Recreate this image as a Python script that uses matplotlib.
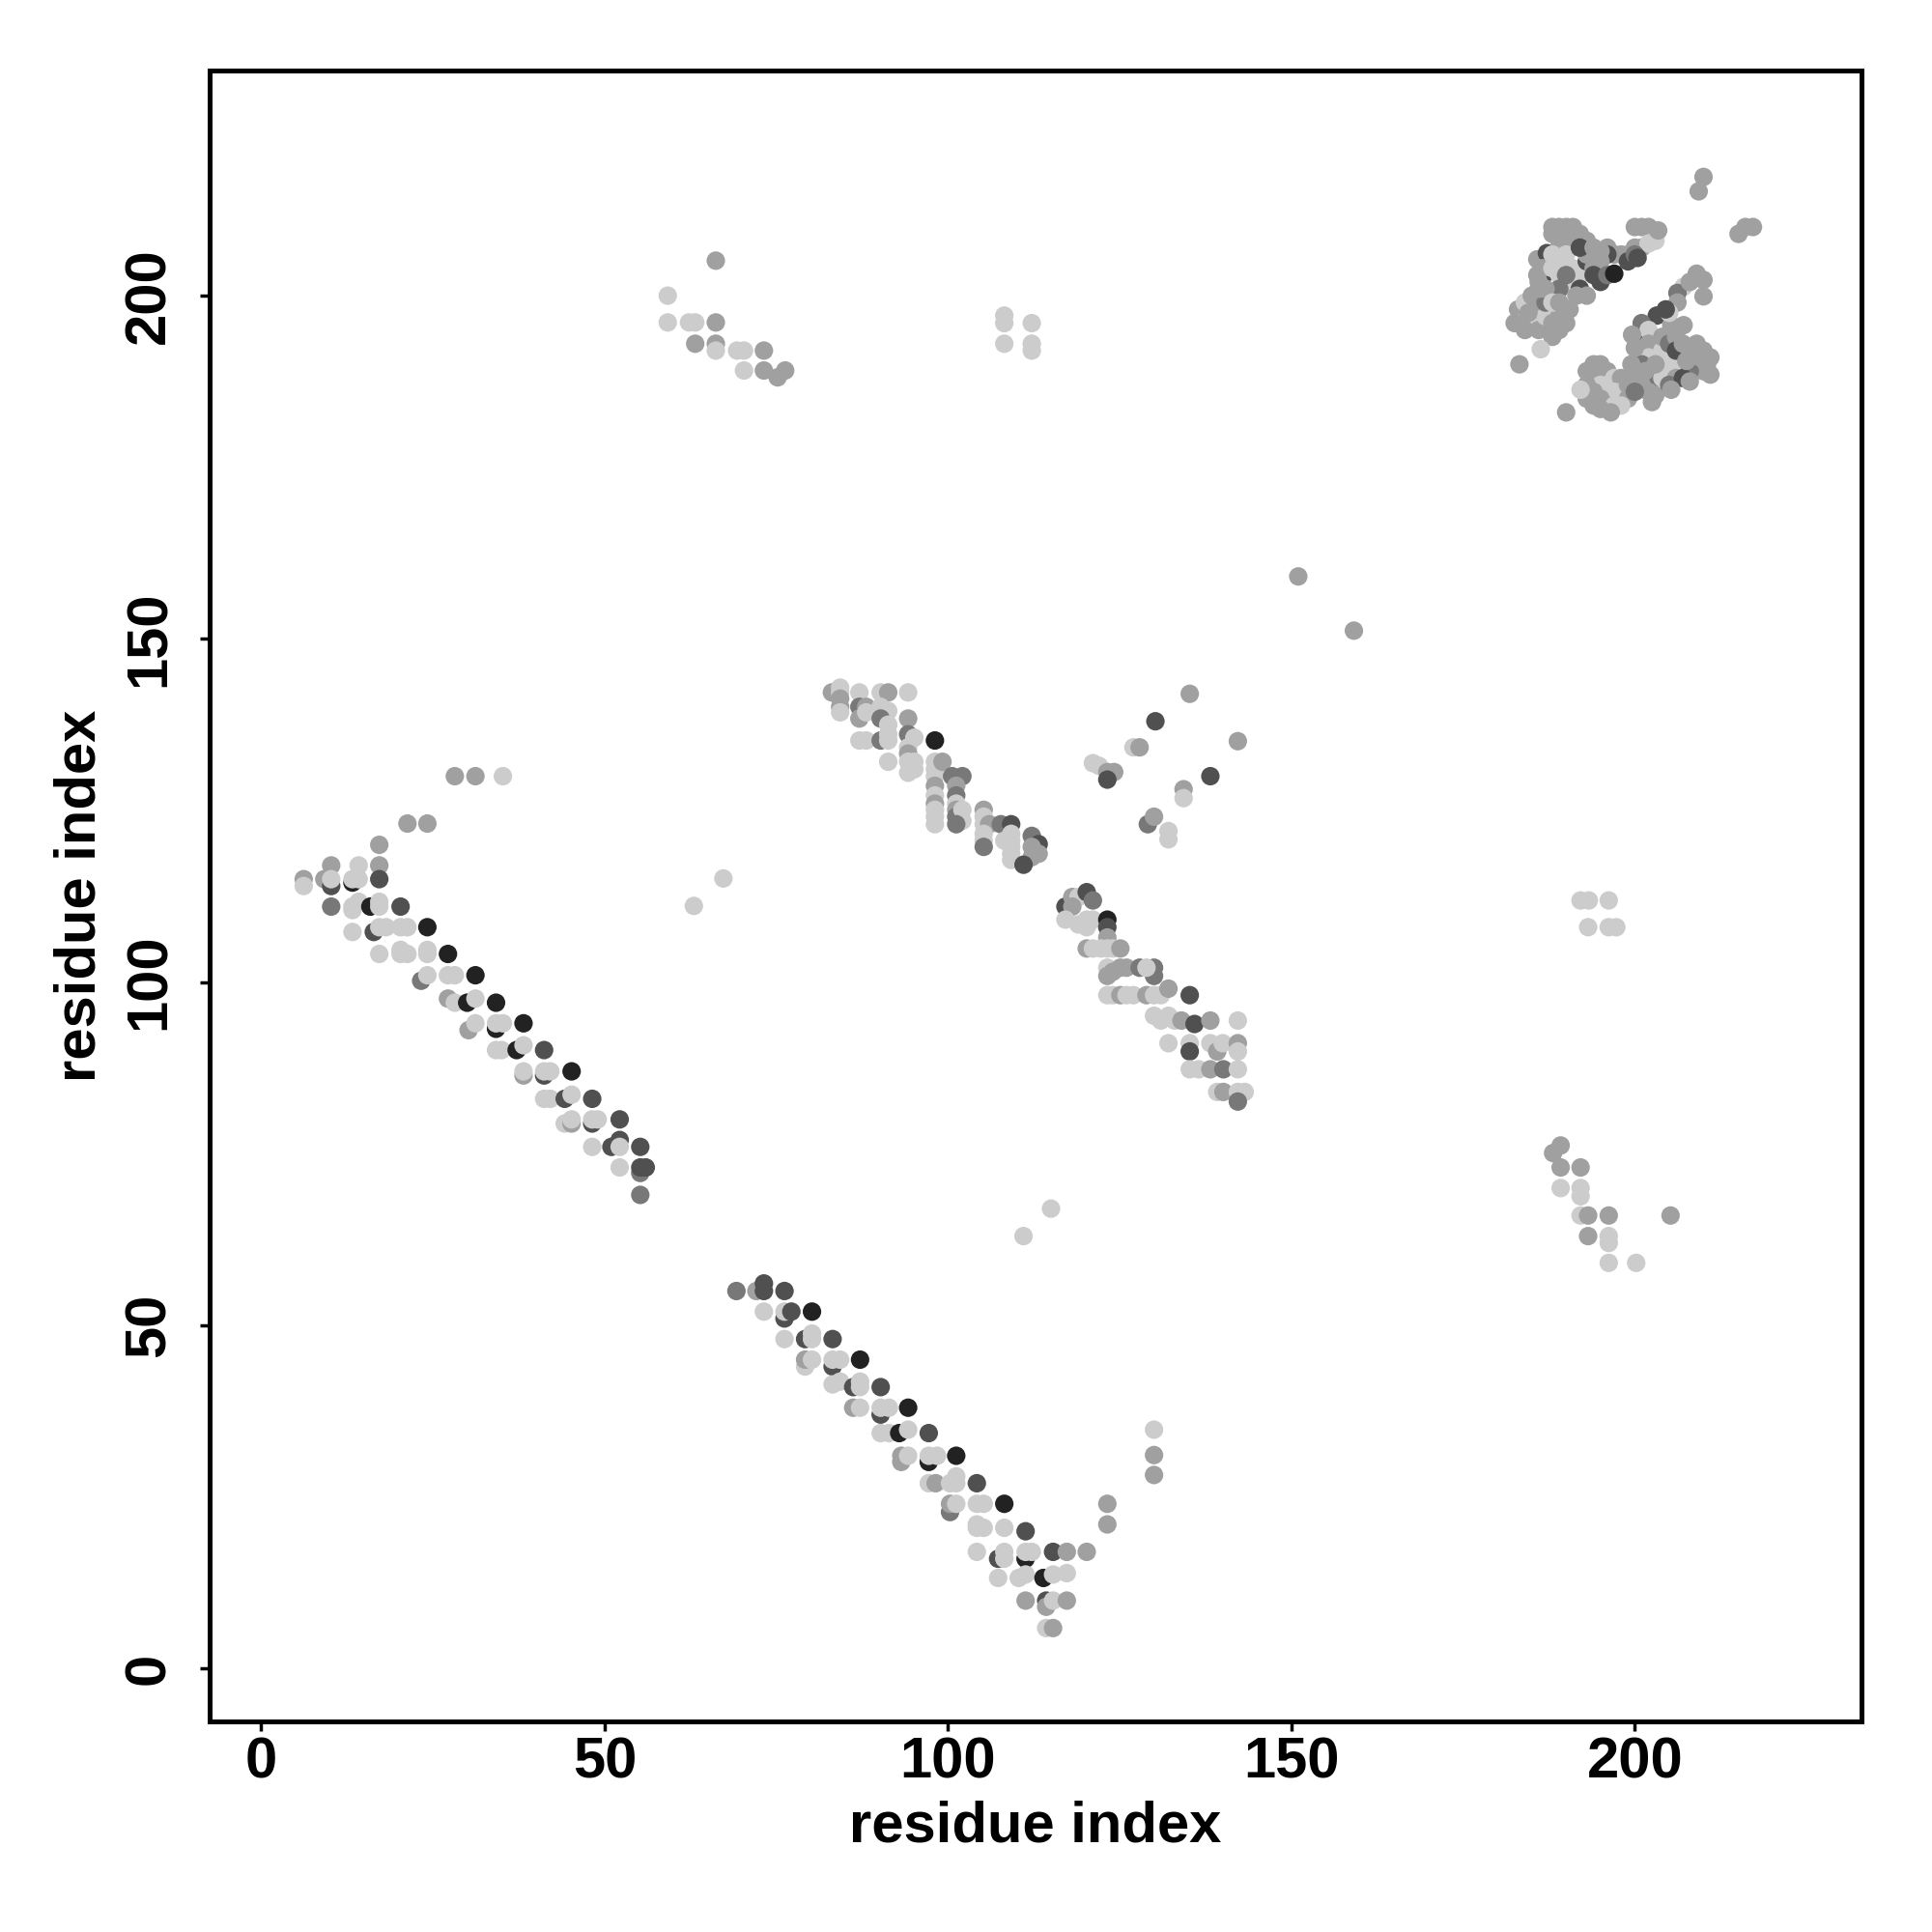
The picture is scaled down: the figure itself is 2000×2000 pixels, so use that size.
import numpy as np
import matplotlib.pyplot as plt
from matplotlib.colors import ListedColormap

# grey levels, 0 = light ... 4 = near black
greys = ['#cccccc', '#a0a0a0', '#787878', '#505050', '#222222']

# strand pair 1 (lower-left diagonal)
a_x = [28.2, 31.2, 35.2, 21.3, 24.2, 17.2, 10.2, 14.2, 17.2,
       6.2, 6.2, 9.2, 10.2, 10.2, 13.3, 13.3, 14.2, 17.2,
       10.2, 13.3, 13.3, 14.2, 15.9, 17.2, 17.2, 20.3,
       13.3, 16.4, 17.2, 18.2, 20.3, 21.3, 24.2,
       17.2, 20.3, 20.3, 21.3, 24.2, 24.2, 27.2,
       23.3, 24.2, 27.2, 28.2, 31.2,
       27.2, 28.2, 30.0, 31.2, 34.2,
       30.2, 31.2, 34.2, 34.2, 35.2, 38.2,
       34.2, 35.0, 37.2, 38.2, 41.2,
       38.2, 38.2, 41.2, 41.2, 42.1, 45.2,
       41.2, 42.1, 44.2, 45.2, 48.2,
       44.2, 45.2, 45.2, 48.2, 48.2, 49.0, 52.2,
       48.2, 51.0, 52.2, 52.2, 55.2,
       52.2, 55.2, 55.2, 56.0, 55.2]
a_y = [130, 130, 130, 123.1, 123.1, 120, 117, 117, 117,
       115, 114, 115, 114, 115, 114.5, 115, 115, 115,
       111, 111, 110.5, 111.7, 111, 111.7, 111, 111,
       107.3, 107.3, 108, 108, 108, 108, 108,
       104.1, 104.7, 104.1, 104.1, 104.7, 104.1, 104.1,
       100.2, 101, 101, 101, 101,
       97.6, 97, 97, 97.6, 97,
       93.0, 94, 93.2, 94, 94, 94,
       90.1, 90.1, 90.1, 90.8, 90.1,
       86.4, 87, 86.4, 87, 87, 87,
       83, 83, 83, 83.6, 83,
       79.4, 79.4, 80, 79.4, 80, 80, 80,
       76, 76, 77, 76, 76,
       73, 72.2, 73, 73, 69]
a_g = [1, 1, 0, 1, 1, 1, 1, 0, 1,
       1, 0, 1, 3, 0, 4, 0, 0, 3,
       2, 0, 0, 0, 4, 0, 0, 3,
       0, 3, 0, 0, 0, 0, 4,
       0, 0, 0, 0, 0, 0, 4,
       2, 0, 0, 0, 4,
       1, 0, 4, 0, 4,
       1, 0, 4, 0, 0, 4,
       0, 0, 4, 0, 3,
       1, 0, 3, 0, 0, 4,
       0, 0, 3, 0, 3,
       0, 1, 0, 3, 0, 0, 3,
       0, 3, 3, 0, 3,
       0, 2, 3, 3, 2]

# strand pair 2 (lower-middle diagonal)
b_x = [69.2, 72.1, 73.2, 73.2, 76.2,
       73.2, 76.2, 76.2, 77.2, 80.2,
       76.2, 79.2, 80.2, 80.2, 83.2,
       79.2, 79.2, 80.2, 83.2, 83.2, 84.3, 87.2,
       83.2, 84.3, 86.2, 87.2, 87.2, 90.2,
       86.2, 87.2, 90.2, 90.2, 91.4, 94.2,
       90.2, 91.4, 92.9, 94.2, 97.2,
       93.2, 93.2, 94.2, 97.2, 97.2, 98.4, 101.2,
       97.2, 98.2, 100.3, 101.2, 101.2, 104.2,
       100.3, 100.3, 101.2, 104.2, 105.2, 108.2,
       104.2, 104.2, 105.2, 108.2, 111.3,
       104.2, 107.3, 108.2, 108.2, 111.3, 111.3, 112.2, 115.3, 117.3, 120.2,
       107.3, 110.3, 111.3, 113.9, 115.3, 117.3,
       111.3, 114.3, 114.3, 115.3, 117.3,
       114.3, 115.3, 123.2, 123.2]
b_y = [55, 55, 56.1, 55, 55,
       52, 51, 52, 52, 52,
       48, 48, 48.8, 48, 48,
       44, 45, 45, 44, 45, 45, 45,
       41.4, 41.8, 41, 41.8, 41, 41,
       38, 38, 37, 38, 38, 38,
       34.3, 34.3, 34.3, 34.8, 34.3,
       30.1, 31, 31, 30.1, 31, 31, 31,
       27, 27, 27, 28, 27, 27,
       22.8, 24, 24, 24, 24, 24,
       20.5, 21, 20.5, 20.5, 20,
       17, 16, 17, 16, 16, 17, 17, 17, 17, 17,
       13.2, 13.2, 13.7, 13.2, 13.7, 13.9,
       9.9, 9.9, 9, 9.9, 9.9,
       5.9, 5.9, 24, 21]
b_g = [2, 1, 3, 3, 3,
       0, 3, 0, 3, 4,
       0, 3, 0, 0, 3,
       0, 1, 0, 3, 0, 0, 4,
       0, 0, 3, 0, 0, 3,
       1, 0, 3, 0, 0, 4,
       0, 0, 4, 0, 3,
       1, 1, 0, 4, 0, 0, 4,
       0, 1, 0, 0, 0, 3,
       2, 1, 0, 0, 0, 4,
       0, 0, 0, 0, 3,
       0, 3, 0, 0, 4, 0, 0, 3, 1, 1,
       0, 0, 0, 4, 0, 0,
       1, 3, 1, 0, 1,
       0, 1, 1, 1]

# middle diagonal
c_x = [83.1, 84.3, 84.3, 84.3, 84.3, 84.3,
       87.1, 87.1, 87.1, 88.1, 88.1,
       90.2, 91.3, 90.2, 91.3, 90.2, 91.3, 94.2,
       87.1, 88.1, 90.2, 91.3, 91.3, 91.3,
       94.2, 94.2, 95.1, 94.2, 94.2, 94.2, 95.1, 94.2, 95.1,
       98.1, 98.1, 98.1, 98.1, 98.1, 98.1, 98.1, 98.1, 98.1, 98.1, 99.2,
       100.6, 102.1, 101.2, 101.2, 101.2, 101.2, 101.2, 102.1, 102.1, 101.2,
       105.2, 105.2, 105.2, 106.0, 105.2, 105.2, 105.2,
       107.7, 109.2, 108.2, 109.2, 109.2, 109.2, 109.2, 109.2,
       112.2, 113.2, 112.2, 113.2, 112.2, 111.0,
       117.1, 118.1, 119.0, 120.2, 121.1, 118.1,
       117.1, 119.0, 120.2, 120.2, 121.1, 123.2, 123.2, 123.2,
       120.2, 121.1, 122.3, 123.2, 124.0, 125.1,
       123.2, 123.2, 124.0, 125.1, 126.0, 127.9, 130.0, 130.0, 128.9,
       123.2, 124.0, 125.1, 126.0, 127.0, 128.9, 130.0, 131.0, 132.1, 135.2,
       130.0, 131.0, 132.1, 133.0, 134.0, 135.9, 138.2, 142.2,
       132.1, 135.2, 135.2, 138.2, 139.2, 140.0, 142.2, 142.2,
       135.2, 136.5, 138.2, 140.1, 142.2,
       139.2, 140.1, 142.2, 143.2, 142.2]
c_y = [142.2, 142.9, 142.2, 141.3, 140.1, 139.3,
       142.2, 140.1, 138.4, 140.1, 139.3,
       142.2, 142.2, 140.1, 139.5, 138.4, 137.5, 142.2,
       135.2, 135.2, 135.2, 136.1, 135.2, 132.1,
       138.4, 136.1, 135.6, 134.2, 133.3, 132.1, 131.0, 130.5, 132.1,
       135.2, 132.1, 131.0, 130.0, 128.6, 127.2, 126.0, 125.1, 124.1, 123.0, 132.1,
       130.0, 130.0, 128.6, 127.2, 126.0, 125.1, 124.1, 125.1, 123.5, 123.0,
       125.1, 124.1, 123.0, 123.0, 121.6, 120.6, 119.7,
       123.0, 123.0, 120.6, 121.6, 120.6, 119.7, 118.7, 117.8,
       121.3, 120.1, 119.7, 118.7, 118.2, 117.1,
       111.0, 112.4, 112.4, 113.1, 111.9, 111.0,
       109.1, 108.4, 109.1, 108.0, 109.1, 109.1, 108.0, 106.5,
       104.9, 104.9, 104.9, 104.9, 104.9, 104.9,
       102.1, 100.9, 101.5, 102.1, 102.1, 102.1, 102.1, 100.9, 102.1,
       98.1, 98.1, 98.1, 98.1, 98.1, 98.1, 98.1, 98.1, 99.05, 98.1,
       95.1, 94.4, 95.1, 94.4, 94.4, 93.9, 94.4, 94.4,
       91.1, 91.1, 89.9, 91.1, 89.9, 91.1, 91.1, 89.9,
       87.3, 87.3, 87.3, 87.3, 87.3,
       84.0, 84.0, 84.0, 84.0, 82.6]
c_g = [1, 0, 0, 1, 1, 0,
       0, 2, 1, 1, 0,
       0, 1, 0, 0, 2, 0, 0,
       0, 0, 2, 0, 0, 0,
       1, 2, 0, 0, 1, 0, 0, 0, 0,
       4, 0, 0, 0, 1, 0, 1, 0, 0, 0, 1,
       2, 2, 1, 2, 0, 1, 2, 0, 0, 2,
       1, 0, 0, 1, 0, 0, 2,
       2, 3, 0, 0, 0, 0, 0, 0,
       2, 3, 1, 1, 1, 3,
       3, 1, 0, 3, 2, 1,
       0, 0, 0, 0, 0, 4, 3, 1,
       1, 0, 0, 0, 0, 1,
       0, 1, 1, 1, 1, 2, 2, 2, 0,
       0, 0, 1, 0, 0, 1, 0, 0, 1, 3,
       0, 0, 0, 0, 1, 3, 1, 0,
       0, 0, 3, 0, 1, 0, 1, 0,
       0, 0, 1, 2, 0,
       0, 1, 0, 0, 2]

# top-right clusters
d_x = [188, 189, 190, 191, 192, 193, 188, 190, 189, 191,
       196, 197, 198, 199, 200, 201, 202, 200, 201, 202, 203, 196, 199, 200, 203.4, 200.4,
       185.8, 185.8, 187.2, 187.2, 186.5,
       188, 189, 190, 189, 190, 191, 192, 188, 191,
       193, 194, 195, 194, 195, 196, 197, 192, 191.5, 193, 189, 190, 193, 192,
       183, 183.5, 184, 185, 185, 186, 186, 187, 187, 188, 188, 189, 189, 190, 184, 182.5, 187, 186, 188, 189,
       186.3, 183.2,
       194, 195, 186, 184.5, 190.5,
       203.2, 201, 201, 201, 202, 202, 202, 201, 202, 203, 201, 202, 203,
       199.6, 200, 199.5,
       204, 205, 204, 205, 206, 204, 206, 205, 203, 204, 205, 206, 206,
       209, 210, 210, 207.1, 206.2, 206.2, 205.3, 207.1, 205, 204.5, 208,
       207, 208, 209, 210, 211, 209, 210, 211, 208, 207, 208, 209.5,
       205.3,
       193, 194, 195, 196, 194, 195, 196, 197, 198, 197, 196, 195, 194, 193, 198, 199, 200, 194, 196, 197, 195, 199, 200, 193, 198,
       192.1, 190,
       202.5, 207.5, 210.5, 196.5, 201.5,
       210, 209.3, 216.1, 215.1, 217.2]
d_y = [210, 210, 210, 210, 209, 208, 209, 209, 208, 208,
       207, 206, 206, 206, 210, 210, 210, 207, 207, 207.6, 208, 206, 205, 206, 209.5, 205.5,
       205.3, 203, 206.2, 203.4, 204,
       206, 205, 206, 203, 202, 204, 203, 204, 201,
       205, 204, 205, 203, 202, 203, 203.2, 201, 200, 200, 201, 203, 206, 207,
       198, 196, 199, 200, 197, 198, 195, 197, 199, 196, 194, 197, 195, 196, 195, 196, 201, 201, 199, 199,
       192.2, 190,
       207, 206.5, 202, 197.5, 198,
       197.1, 196, 194, 192, 195, 193, 191, 190, 189, 188, 187, 186, 185.5,
       194.3, 192.4, 190,
       192, 191, 190, 189, 190, 188, 188, 187, 190, 194, 193, 194, 192,
       203.2, 202.3, 199.9, 201.3, 200.4, 199, 195.7, 195.7, 197.5, 198, 202,
       193, 192, 193, 192, 191, 190, 189, 188.5, 189, 188, 187.5, 191,
       186.3,
       189, 190, 190, 189, 188, 187, 187, 188, 188, 186, 185, 185, 186, 187, 186, 187, 188, 184, 184, 184, 183.5, 185, 186, 185, 184,
       186.3, 183,
       184.5, 190.5, 190, 183, 189,
       217.3, 215.2, 210, 209, 210]
d_g = [1, 1, 1, 1, 1, 1, 1, 1, 1, 1,
       1, 1, 1, 1, 1, 1, 1, 1, 1, 0, 0, 3, 3, 2, 1, 3,
       1, 1, 3, 3, 1,
       0, 0, 0, 0, 0, 0, 0, 0, 0,
       3, 1, 1, 3, 3, 2, 4, 3, 1, 1, 2, 2, 1, 3,
       1, 0, 0, 1, 0, 1, 1, 0, 2, 1, 1, 1, 1, 1, 1, 1, 1, 1, 0, 1,
       0, 1,
       1, 1, 1, 1, 1,
       3, 2, 3, 3, 0, 1, 0, 2, 0, 2, 1, 1, 1,
       1, 1, 1,
       0, 0, 0, 0, 0, 0, 1, 2, 1, 1, 2, 1, 3,
       1, 1, 1, 0, 2, 1, 1, 1, 0, 3, 1,
       1, 1, 1, 1, 1, 1, 1, 1, 2, 3, 1, 1,
       1,
       1, 1, 1, 1, 1, 0, 0, 0, 1, 0, 0, 1, 1, 1, 0, 1, 1, 1, 1, 0, 1, 1, 2, 1, 0,
       0, 1,
       1, 1, 1, 1, 1,
       1, 1, 1, 1, 1]

# scattered contacts
e_x = [66.2, 59.2, 59.2, 62.3, 63.2, 66.2, 63.2, 66.2, 66.2, 69.3, 70.3, 73.2, 70.3, 73.2, 75.2, 76.3,
       108.2, 108.2, 112.2, 108.2, 112.2, 112.2,
       151.0, 159.1, 63.0, 67.3, 111.0, 115.0, 130.0, 130.0, 130.0,
       135.2, 130.2, 127.0, 127.9, 142.2, 121.1, 122.0, 123.2, 124.2, 123.2, 138.2, 134.3, 134.3,
       129.1, 130.0, 132.1, 132.1,
       192.1, 193.3, 196.2, 193.2, 196.2, 197.3,
       189.2, 188.1, 189.2, 192.1, 189.2, 192.1, 192.1, 192.1, 193.2, 196.2, 205.2,
       193.2, 196.2, 196.2, 196.2, 200.2]
e_y = [205.1, 200, 196.1, 196.1, 196.1, 196.1, 193, 193, 192, 192, 192, 192, 189.1, 189.1, 188.1, 189.1,
       197.1, 196, 196, 193, 193, 192,
       159.1, 151.2, 111.1, 115.1, 63.0, 67.0, 34.8, 31.1, 28.2,
       142, 138, 134.2, 134.2, 135.1, 131.9, 131.5, 130.6, 130.6, 129.5, 130, 128.1, 126.8,
       123, 124.1, 122, 120.8,
       111.9, 111.9, 111.9, 108, 108, 108,
       76.2, 75.1, 73, 73, 70, 70, 68.8, 66, 66, 66, 66,
       63, 63, 62, 59.1, 59.1]
e_g = [1, 0, 0, 0, 0, 1, 1, 1, 0, 0, 0, 1, 0, 1, 1, 1,
       0, 0, 0, 0, 0, 0,
       1, 1, 0, 0, 0, 0, 0, 1, 1,
       1, 3, 0, 1, 1, 0, 0, 1, 1, 3, 3, 1, 0,
       2, 1, 0, 0,
       0, 0, 0, 0, 0, 0,
       1, 1, 1, 1, 0, 0, 0, 0, 1, 1, 1,
       1, 0, 0, 0, 0]

xs = np.array(a_x + b_x + c_x + d_x + e_x)
ys = np.array(a_y + b_y + c_y + d_y + e_y)
gs = np.array(a_g + b_g + c_g + d_g + e_g)

plt.rcParams['font.family'] = ['Liberation Sans', 'DejaVu Sans']
plt.rcParams['font.weight'] = 'bold'

fig = plt.figure(figsize=(20, 20), dpi=100)
ax = fig.add_axes([0.1085, 0.109, 0.855, 0.8545])

ax.scatter(xs, ys, c=gs, cmap=ListedColormap(greys), vmin=-0.5, vmax=4.5,
           s=190, linewidths=0)

ax.set_xlim(-7.5, 233)
ax.set_ylim(-7.7, 232.8)
ticks = [0, 50, 100, 150, 200]
ax.set_xticks(ticks)
ax.set_yticks(ticks)
ax.set_xticklabels([str(t) for t in ticks], fontsize=43, fontweight='bold')
ax.set_yticklabels([str(t) for t in ticks], fontsize=43, fontweight='bold',
                   rotation=90, va='center')
ax.tick_params(length=7, width=2.5)
ax.tick_params(axis='x', pad=4)
ax.tick_params(axis='y', pad=18)
for s in ax.spines.values():
    s.set_linewidth(3.6)
ax.set_xlabel('residue index', fontsize=43, fontweight='bold', labelpad=8)
ax.set_ylabel('residue index', fontsize=43, fontweight='bold', labelpad=12)

fig.savefig('out.png', dpi=100)
